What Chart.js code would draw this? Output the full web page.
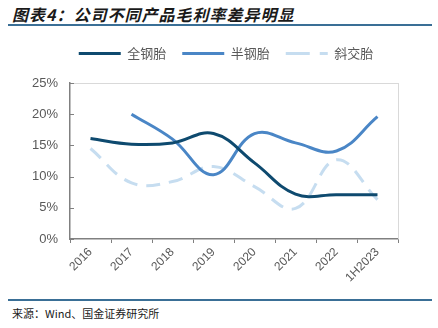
<!DOCTYPE html>
<html>
<head>
<meta charset="utf-8">
<script src="https://cdn.jsdelivr.net/npm/chart.js@4"></script>
<style>
  html, body { margin: 0; padding: 0; background: #fff; }
  body { width: 438px; height: 328px; position: relative; overflow: hidden; font-family: "Noto Sans CJK SC", sans-serif; }
  #title { position: absolute; left: 12px; top: 2px; font-size: 16px; font-style: italic; font-weight: bold; color: #1a1a1a; letter-spacing: 1px; }
  #topline { position: absolute; left: 8px; right: 6px; top: 24px; height: 2px; background: #3a6f96; }
  #botline { position: absolute; left: 8px; right: 6px; top: 299px; height: 2px; background: #3a6f96; }
  #source { position: absolute; left: 12px; top: 305px; font-size: 11px; color: #1a1a1a; font-family: "Noto Sans CJK SC", monospace; }
  #wrap { position: absolute; left: 0; top: 31px; width: 438px; height: 268px; }
</style>
</head>
<body>
<div id="title">图表4：公司不同产品毛利率差异明显</div>
<div id="topline"></div>
<div id="wrap"><canvas id="c"></canvas></div>
<div id="botline"></div>
<div id="source">来源：Wind、国金证券研究所</div>
<script>
const categories = ["2016", "2017", "2018", "2019", "2020", "2021", "2022", "1H2023"];
const allSteel = [16.1, 15.2, 15.4, 16.9, 12.2, 7.2, 7.1, 7.1];
const semiSteel = [null, 20.0, 16.0, 10.3, 16.9, 15.4, 14.1, 19.6];
const bias = [14.5, 9.0, 9.2, 11.6, 8.4, 4.9, 12.7, 6.3];
const yTicks = [0, 5, 10, 15, 20, 25];

const frame = {
  id: 'frame',
  beforeLayout(chart) {
    const lg = chart.legend;
    if (lg && !lg._patched) {
      const origFit = lg.fit;
      lg.fit = function () { origFit.call(this); this.height = 52; };
      lg._patched = true;
    }
  },
  afterLayout(chart) {
    if (chart.legend) { chart.legend.left += 27; chart.legend.right += 27; }
  },
  afterDraw(chart) {
    const { ctx, chartArea: a, scales } = chart;
    ctx.save();
    ctx.strokeStyle = '#d9d9d9';
    ctx.lineWidth = 1;
    ctx.beginPath();
    ctx.moveTo(a.left, a.top + 0.5); ctx.lineTo(a.right + 0.5, a.top + 0.5);
    ctx.moveTo(a.right + 0.5, a.top); ctx.lineTo(a.right + 0.5, a.bottom);
    ctx.stroke();
    ctx.strokeStyle = '#808080';
    ctx.beginPath();
    yTicks.forEach(v => {
      const y = Math.round(scales.y.getPixelForValue(v)) + 0.5;
      ctx.moveTo(a.left, y); ctx.lineTo(a.left + 4, y);
    });
    ctx.stroke();
    ctx.restore();
  }
};

new Chart(document.getElementById('c'), {
  type: 'line',
  data: {
    labels: categories,
    datasets: [
      { label: '全钢胎', data: allSteel, borderColor: '#0e4a6f', backgroundColor: '#0e4a6f', borderWidth: 3, tension: 0.4, pointRadius: 0, fill: false },
      { label: '半钢胎', data: semiSteel, borderColor: '#4a86c6', backgroundColor: '#4a86c6', borderWidth: 3, tension: 0.4, pointRadius: 0, fill: false },
      { label: '斜交胎', data: bias, borderColor: '#c6ddf0', backgroundColor: 'rgba(0,0,0,0)', borderWidth: 3, borderDash: [14, 9], tension: 0.4, pointRadius: 0, fill: false }
    ]
  },
  options: {
    responsive: true,
    maintainAspectRatio: false,
    animation: false,
    layout: { padding: { left: 0, right: 40, top: 0, bottom: 0 } },
    plugins: {
      legend: {
        position: 'top',
        labels: {
          usePointStyle: true, pointStyle: 'line', pointStyleWidth: 42, boxHeight: 13,
          padding: 16, color: '#595959', font: { size: 13, family: '"Noto Sans CJK SC", sans-serif' },
          generateLabels(chart) {
            const items = Chart.defaults.plugins.legend.labels.generateLabels(chart);
            items.forEach((it, i) => {
              it.pointStyle = 'line';
              it.lineWidth = 3;
              it.lineDash = i === 2 ? [24, 10] : [];
            });
            return items;
          }
        }
      },
      tooltip: { enabled: false }
    },
    scales: {
      x: {
        offset: true,
        grid: { offset: true, drawOnChartArea: false, drawTicks: true, tickLength: 4, color: '#808080' },
        border: { color: '#808080', width: 1.5 },
        ticks: { maxRotation: 45, minRotation: 45, color: '#595959', padding: 2, font: { size: 12, family: 'Arial, "Liberation Sans", sans-serif' } },
        afterFit(s) { s.height = 60; }
      },
      y: {
        min: 0, max: 25,
        afterBuildTicks(s) { s.ticks = yTicks.map(v => ({ value: v })); },
        grid: { drawOnChartArea: false, drawTicks: false },
        border: { color: '#808080', width: 1.5 },
        ticks: { color: '#595959', padding: 12, callback: v => v + '%', font: { size: 13, family: 'Arial, "Liberation Sans", sans-serif' } },
        afterFit(s) { s.width = 70; }
      }
    }
  },
  plugins: [frame]
});
</script>
</body>
</html>
